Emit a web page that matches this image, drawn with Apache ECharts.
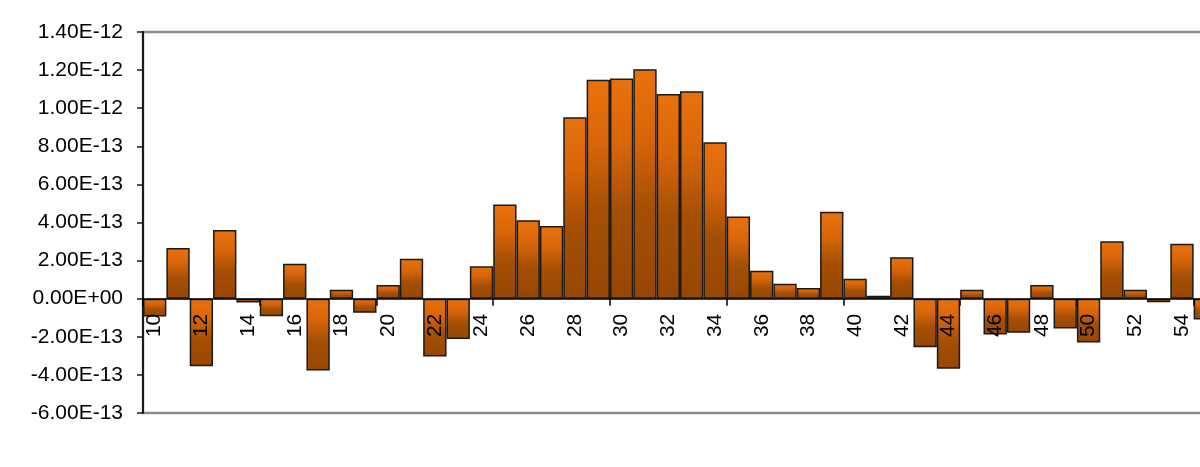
<!DOCTYPE html>
<html>
<head>
<meta charset="utf-8">
<style>
  html, body { margin: 0; padding: 0; background: #ffffff; }
  #chart { width: 1200px; height: 467px; }
</style>
<script src="https://cdn.jsdelivr.net/npm/echarts@6/dist/echarts.min.js"></script>
</head>
<body>
<div id="chart"></div>
<script>
// categories 10..55
var categories = ['10', '11', '12', '13', '14', '15', '16', '17', '18', '19',
    '20', '21', '22', '23', '24', '25', '26', '27', '28', '29',
    '30', '31', '32', '33', '34', '35', '36', '37', '38', '39',
    '40', '41', '42', '43', '44', '45', '46', '47', '48', '49',
    '50', '51', '52', '53', '54', '55'];

// values in units of 1E-13
var values = [-0.93, 2.66, -3.55, 3.6, -0.2, -0.92, 1.84, -3.77, 0.47, -0.74,
    0.72, 2.1, -3.03, -2.12, 1.7, 4.95, 4.12, 3.82, 9.53, 11.49,
    11.56, 12.05, 10.75, 10.89, 8.21, 4.32, 1.47, 0.79, 0.56, 4.56,
    1.05, 0.16, 2.17, -2.55, -3.68, 0.47, -1.88, -1.79, 0.72, -1.56,
    -2.3, 3.02, 0.47, -0.18, 2.89, -1.09];

var yMin = -6, yMax = 14, yStep = 2;
var yTickLabels = ['-6.00E-13', '-4.00E-13', '-2.00E-13', '0.00E+00', '2.00E-13',
    '4.00E-13', '6.00E-13', '8.00E-13', '1.00E-12', '1.20E-12', '1.40E-12'];

var gridTop = 32, gridBottom = 54, H = 467;
// move the category axis up to the zero line
var plotH = H - gridTop - gridBottom;
var zeroShift = plotH * (0 - yMin) / (yMax - yMin);

var chart = echarts.init(document.getElementById('chart'));
var font = 'Liberation Sans, Arial, sans-serif';

var option = {
    backgroundColor: '#ffffff',
    animation: false,
    grid: {
        left: 143,
        right: -17,
        top: gridTop,
        bottom: gridBottom,
        outerBoundsMode: 'none',
        containLabel: false,
        show: true,
        borderColor: '#8c8c8c',
        borderWidth: 2.5
    },
    xAxis: {
        type: 'category',
        data: categories,
        z: 5,
        offset: -zeroShift,
        axisLine: { onZero: false, lineStyle: { color: '#000000', width: 1.5 } },
        axisTick: { show: true, interval: 4, length: 7, lineStyle: { color: '#000000', width: 1.5 } },
        axisLabel: {
            interval: 1,
            rotate: 90,
            margin: 15,
            fontSize: 21,
            fontFamily: font,
            color: '#000000'
        },
        splitLine: { show: false }
    },
    yAxis: {
        type: 'value',
        min: yMin,
        max: yMax,
        interval: yStep,
        axisLine: { show: true, lineStyle: { color: '#1a1a1a', width: 2 } },
        axisTick: { show: true, length: 6, lineStyle: { color: '#1a1a1a', width: 1.5 } },
        axisLabel: {
            margin: 20,
            fontSize: 21,
            fontFamily: font,
            color: '#000000',
            formatter: function (v) {
                return yTickLabels[Math.round((v - yMin) / yStep)];
            }
        },
        splitLine: { show: false }
    },
    series: [
        {
            type: 'bar',
            data: values,
            barCategoryGap: '0%',
            itemStyle: {
                color: new echarts.graphic.LinearGradient(0, 0, 0, 1, [
                    { offset: 0, color: '#e8720c' },
                    { offset: 0.3, color: '#d8650a' },
                    { offset: 0.6, color: '#a44f05' },
                    { offset: 1, color: '#974603' }
                ]),
                borderColor: '#1a1a1a',
                borderWidth: 1.5
            }
        }
    ]
};
chart.setOption(option);
</script>
</body>
</html>
